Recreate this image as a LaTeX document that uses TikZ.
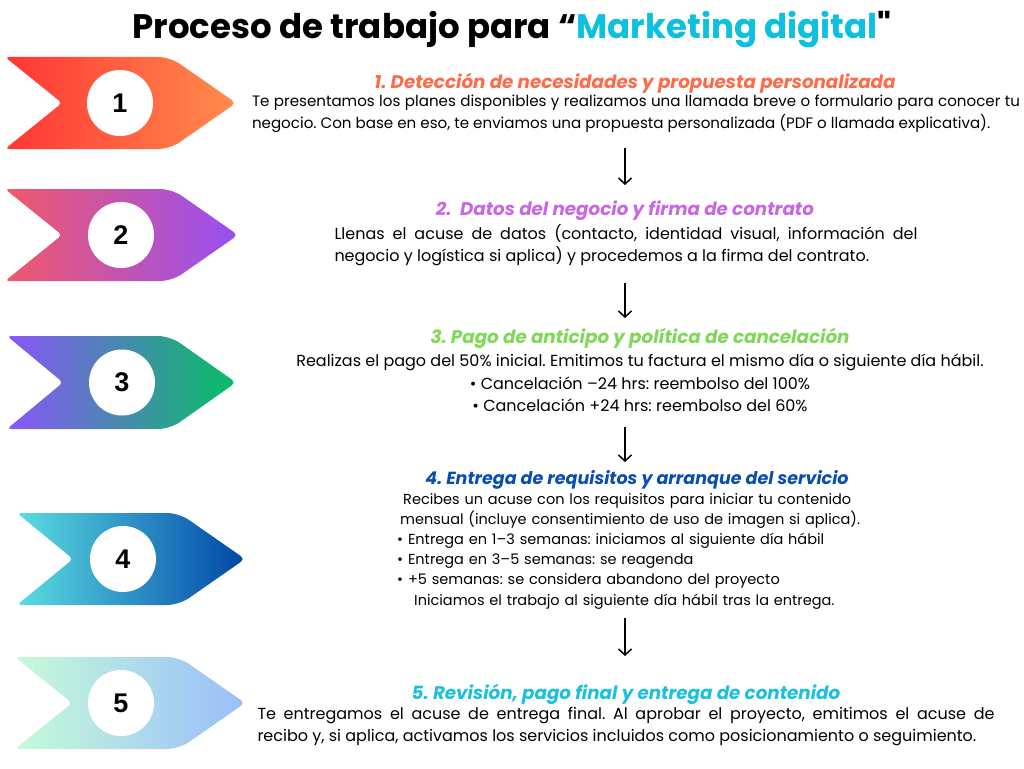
\documentclass[tikz,border=0pt]{standalone}
\usepackage{fontspec}
\setmainfont{Poppins}
\newfontfamily\headfont{Poppins}
\newfontfamily\numfont{Liberation Sans}
\usetikzlibrary{arrows.meta}
\usepackage{xcolor}
\frenchspacing
\hyphenpenalty=10000
\exhyphenpenalty=10000

\definecolor{c1a}{HTML}{FF3535}\definecolor{c1b}{HTML}{FF8C4C}
\definecolor{c2a}{HTML}{F0586A}\definecolor{c2b}{HTML}{9650F5}
\definecolor{c3a}{HTML}{8A55F7}\definecolor{c3b}{HTML}{05BF65}
\definecolor{c4a}{HTML}{5CDDE2}\definecolor{c4b}{HTML}{0046A8}
\definecolor{c5a}{HTML}{C6FBD8}\definecolor{c5b}{HTML}{9ABDFA}
\definecolor{h1}{HTML}{FF6B4A}
\definecolor{h2}{HTML}{C766E6}
\definecolor{h3}{HTML}{7ED957}
\definecolor{h4}{HTML}{0A4DB0}
\definecolor{h5}{HTML}{1BC0E0}
\definecolor{tcyan}{HTML}{0CC0DF}

\begin{document}
\begin{tikzpicture}[
  x=1pt, y=-1pt,
  ttl/.style={inner sep=0, font=\headfont\bfseries\fontsize{34}{40}\selectfont},
  head/.style={inner sep=0, font=\headfont\bfseries\itshape\fontsize{18.3}{22}\selectfont},
  body/.style={inner sep=0, align=justify, font=\fontsize{16}{22}\selectfont},
  num/.style={circle, fill=white, minimum size=66pt, inner sep=0, font=\numfont\bfseries\fontsize{27}{30}\selectfont},
  flow/.style={-{Straight Barb[length=6pt,width=13pt]}, line width=1.5pt},
]
\useasboundingbox[fill=white] (0,0) rectangle (1024,768);

% chevrons with numbers
\foreach \xl/\yt/\yb/\xn/\xp/\xc/\ca/\cb/\k in {
    5/57/149/62/236/120/c1a/c1b/1,
    5/189/281/62/238/121/c2a/c2b/2,
    7/336/429/63/236/122/c3a/c3b/3,
    17/513/605/73/245/123/c4a/c4b/4,
    15/657/749/72/245/121/c5a/c5b/5}{
  \pgfmathsetmacro\ym{(\yt+\yb)/2}
  \shade[left color=\ca, right color=\cb, rounded corners=4pt]
    (\xl,\yt) [rounded corners=12pt] -- (\xp-66,\yt) [rounded corners=5pt] -- (\xp,\ym)
    [rounded corners=12pt] -- (\xp-66,\yb) [rounded corners=4pt] -- (\xl,\yb) -- (\xn,\ym) -- cycle;
  \node[num] (n\k) at (\xc,\ym) {\k};
}

% title
\node[ttl] (title) at (512,30) {Proceso de trabajo para “\textcolor{tcyan}{Marketing digital}"};

% step 1
\node[head, text=h1] (h1) at (635,83) {1. Detección de necesidades y propuesta personalizada};
\node[body, text width=768pt, font=\fontsize{15.1}{22}\selectfont] (d1) at (636,114) {Te presentamos los planes disponibles y realizamos una llamada breve o formulario para conocer tu\linebreak
  negocio. Con base en eso, te enviamos una propuesta personalizada (PDF o llamada explicativa).};

% step 2
\node[head, text=h2] (h2) at (625,211) {2.\ \ Datos del negocio y firma de contrato};
\node[body, text width=583pt] (d2) at (626,245) {Llenas el acuse de datos (contacto, identidad visual, información del\linebreak
  negocio y logística si aplica) y procedemos a la firma del contrato.};

% step 3
\node[head, text=h3] (h3) at (640,338) {3. Pago de anticipo y política de cancelación};
\node[body, align=center, font=\fontsize{16}{22.5}\selectfont] (d3) at (640,383) {Realizas el pago del 50\% inicial. Emitimos tu factura el mismo día o siguiente día hábil.\\
  • Cancelación –24 hrs: reembolso del 100\%\\
  • Cancelación +24 hrs: reembolso del 60\%};

% step 4
\node[head, text=h4, font=\headfont\bfseries\itshape\fontsize{17.5}{22}\selectfont] (h4) at (637,480) {4. Entrega de requisitos y arranque del servicio};
\node[body, align=left, text width=470pt, anchor=west, font=\fontsize{14.5}{20.2}\selectfont] (d4) at (397,551) {\hspace*{6pt}Recibes un acuse con los requisitos para iniciar tu contenido\\
  \hspace*{3pt}mensual (incluye consentimiento de uso de imagen si aplica).\\
  • Entrega en 1–3 semanas: iniciamos al siguiente día hábil\\
  • Entrega en 3–5 semanas: se reagenda\\
  • +5 semanas: se considera abandono del proyecto\\
  \hspace*{17pt}Iniciamos el trabajo al siguiente día hábil tras la entrega.};

% step 5
\node[head, text=h5] (h5) at (626,694) {5. Revisión, pago final y entrega de contenido};
\node[body, text width=737pt] (d5) at (626,727) {Te entregamos el acuse de entrega final. Al aprobar el proyecto, emitimos el acuse de\linebreak
  recibo y, si aplica, activamos los servicios incluidos como posicionamiento o seguimiento.};

% arrows between steps
\foreach \i/\ys/\ye in {1/148/185, 2/283/318, 3/427/462, 4/618/656}{
  \coordinate (s\i) at (625,\ys);
  \coordinate (e\i) at (625,\ye);
  \draw[flow] (s\i) -- (e\i);
}
\end{tikzpicture}
\end{document}
